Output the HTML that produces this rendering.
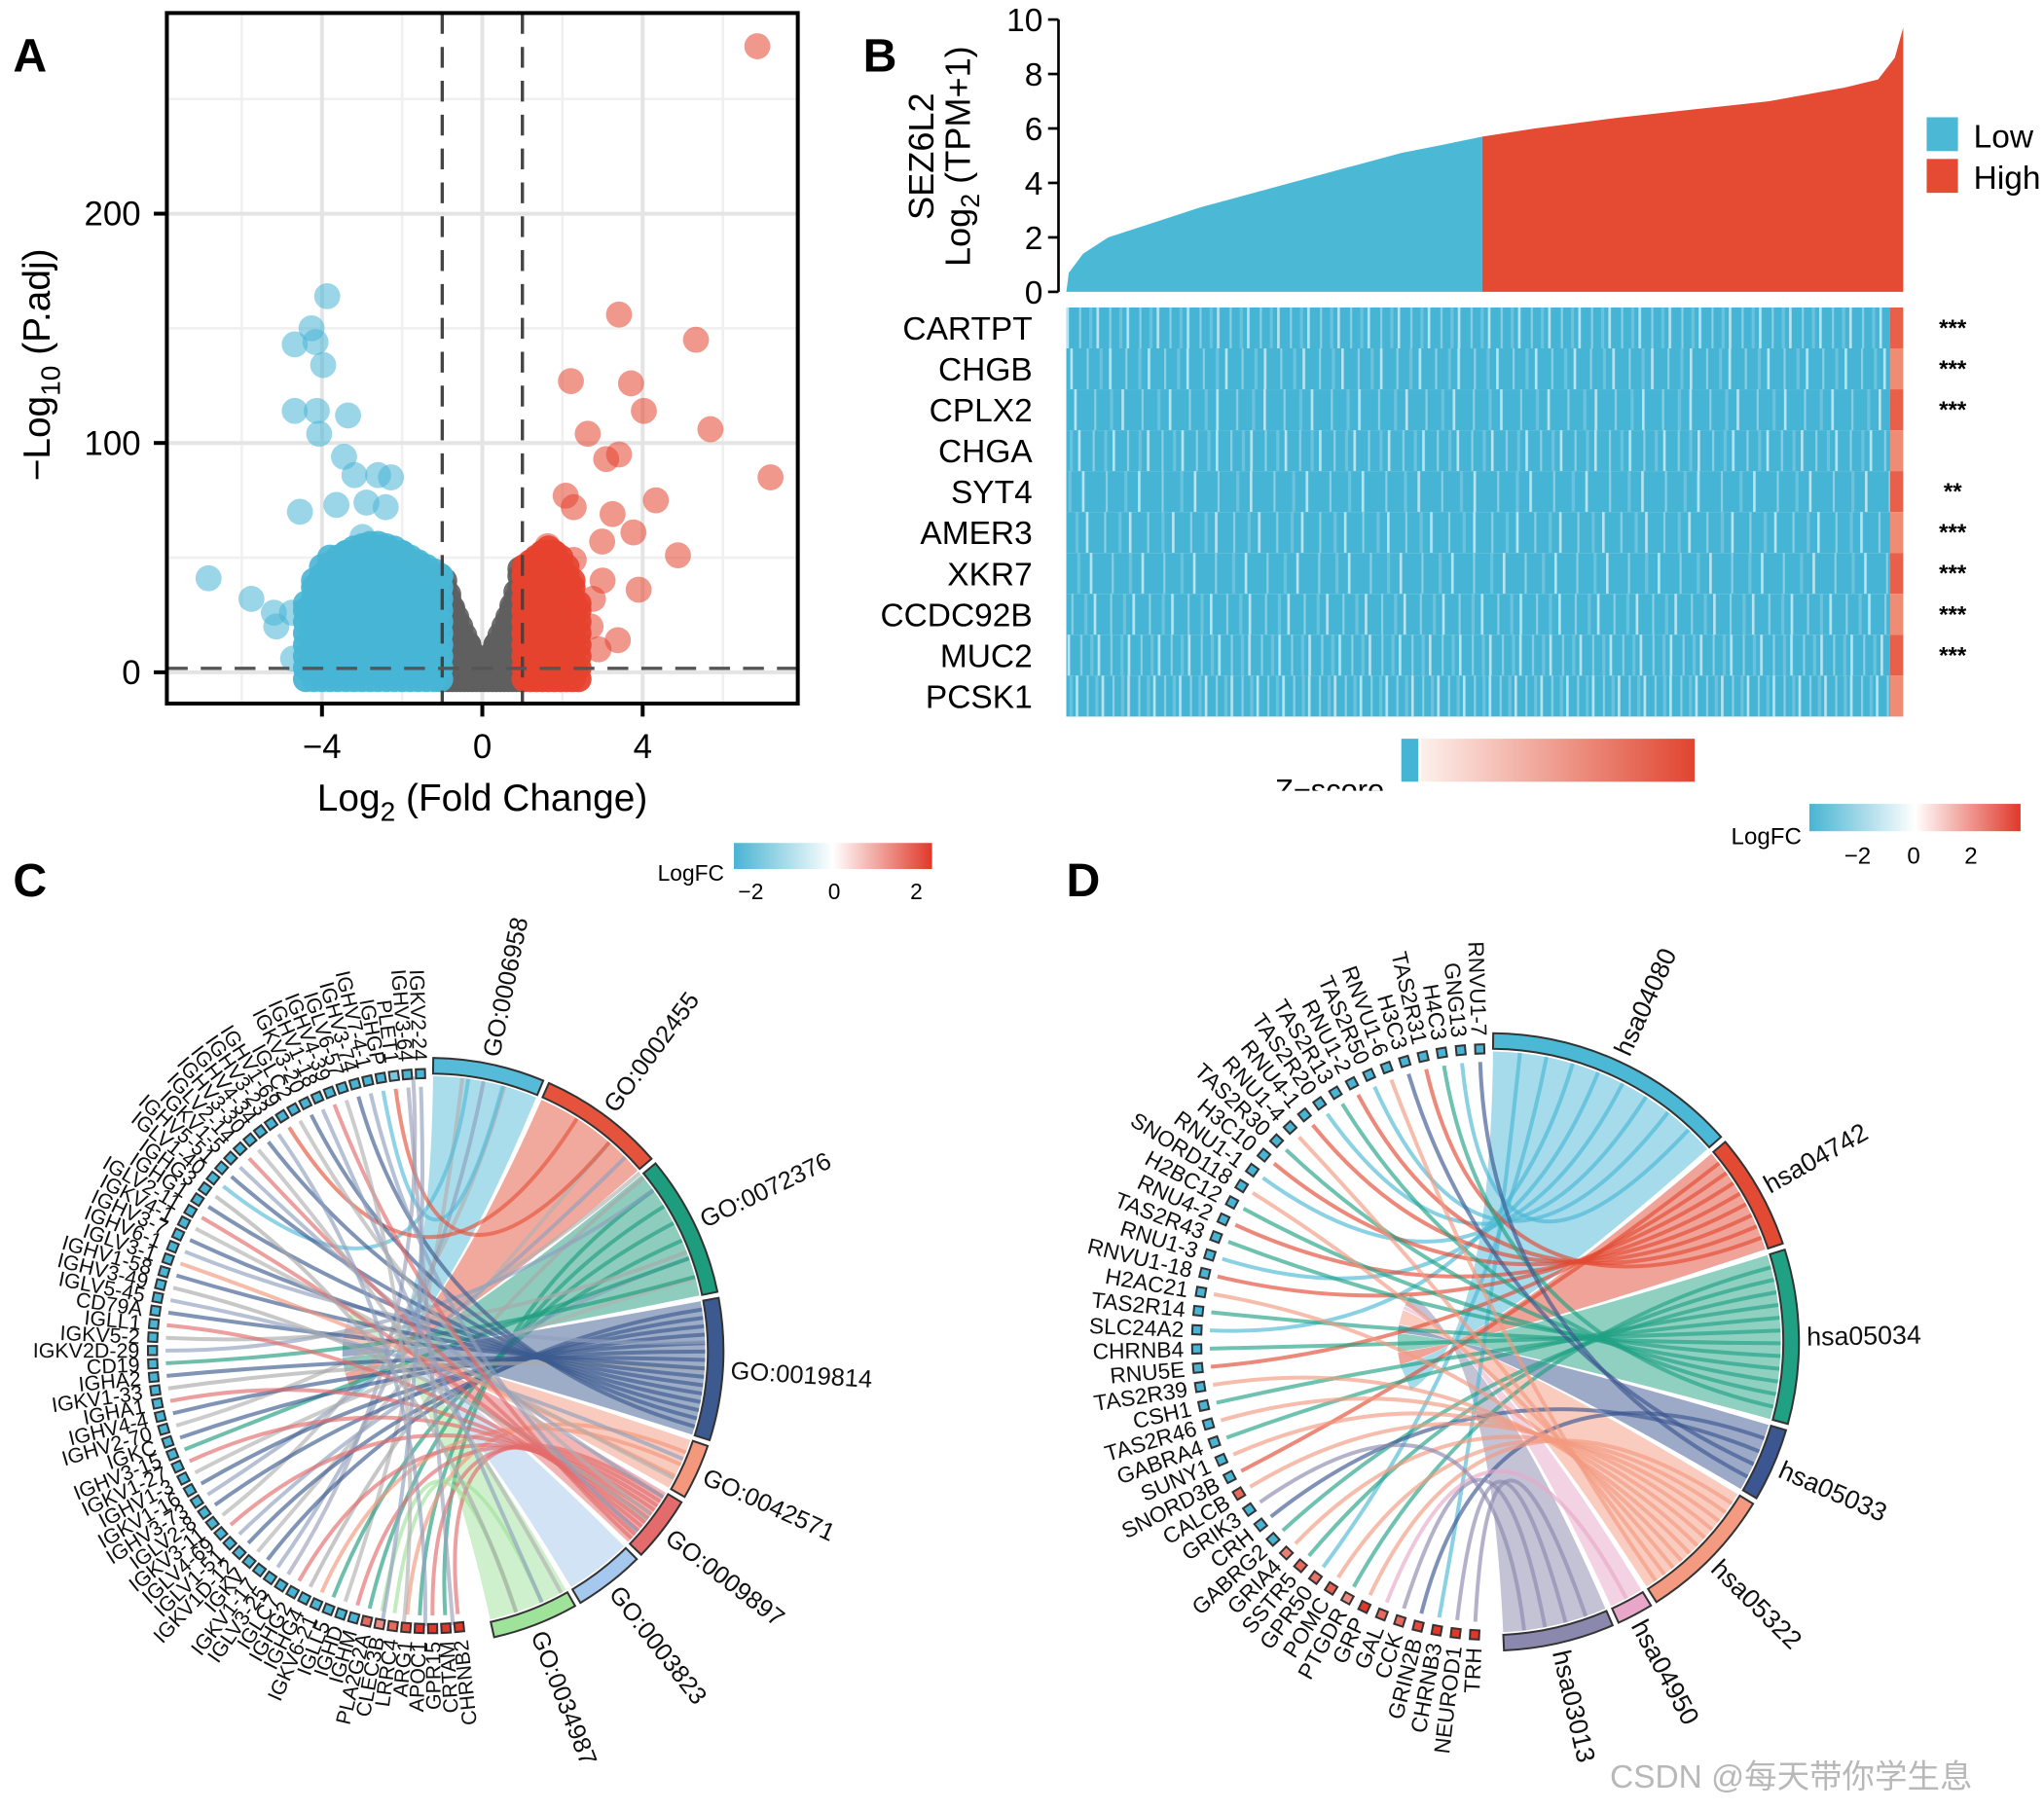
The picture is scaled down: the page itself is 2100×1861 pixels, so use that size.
<!DOCTYPE html>
<html><head><meta charset="utf-8"><style>
html,body{margin:0;padding:0;background:#fff}
svg{display:block;font-family:"Liberation Sans","Noto Sans CJK SC",sans-serif}
</style></head><body>
<svg id="fig" width="2100" height="1861" viewBox="0 0 1568 1390" preserveAspectRatio="none">
<defs>
<linearGradient id="gLog" x1="0" x2="1"><stop offset="0" stop-color="#49b4d3"/><stop offset="0.5" stop-color="#ffffff"/><stop offset="1" stop-color="#e0382a"/></linearGradient>
<linearGradient id="gZ" x1="0" x2="1"><stop offset="0" stop-color="#fdf0ec"/><stop offset="1" stop-color="#e0452f"/></linearGradient>
<clipPath id="zclip"><rect x="900" y="580" width="200" height="27"/></clipPath>
</defs>
<g id="pA"></g>
<g id="pB"></g>
<g id="pC"></g>
<g id="pD"></g>
<text x="1235" y="1372" font-size="25" fill="#b8b8b8">CSDN @每天带你学生息</text>
</svg>
<script>
// ---------- Panel A data (log2FC, -log10 padj) ----------
const blueX=[-3.87,-4.26,-4.68,-4.16,-3.97,-4.68,-4.13,-3.35,-4.07,-3.45,-3.19,-2.6,-2.28,-4.55,-3.64,-2.89,-2.41,-2.99,-6.83,-5.76,-5.2,-5.14,-4.75,-4.72];
const blueY=[164,150,143,144,134,114,114,112,104,94,86,86,85,70,73,74,72,59,41,32,26,20,26,6];
// dense cluster: column positions and the top of each column
const blueBlobX=[-4.4,-4.2,-4.0,-3.8,-3.6,-3.4,-3.2,-3.0,-2.8,-2.6,-2.4,-2.2,-2.0,-1.8,-1.6,-1.4,-1.2,-1.05];
const blueBlobTop=[30,40,46,50,50,52,54,55,56,56,55,54,52,50,48,46,44,42];
const grayBlobX=[-0.95,-0.85,-0.75,-0.65,-0.55,-0.45,-0.35,-0.25,-0.15,-0.05,0.05,0.15,0.25,0.35,0.45,0.55,0.65,0.75,0.85,0.95];
const grayBlobTop=[40,34,28,24,20,16,12,8,5,3,3,5,8,12,16,20,24,29,35,45];
const redBlobX=[1.05,1.2,1.35,1.5,1.65,1.8,1.95,2.1,2.25,2.4];
const redBlobTop=[46,48,50,52,54,52,50,46,40,30];
const redX=[6.86,3.41,5.33,2.21,3.71,4.03,5.69,7.19,2.63,3.41,3.09,4.33,2.08,2.28,3.25,3.77,2.99,4.88,3.9,3.38,2.76,2.28,1.63,2.7,2.9,3.0];
const redY=[273,156,145,127,126,114,106,85,104,95,93,75,77,72,69,61,57,51,36,14,32,49,55,20,10,40];
const xTicksA=[-4,0,4], yTicksA=[0,100,200];

// ---------- Panel B data ----------
const bQuant=[0,0.003,0.02,0.05,0.1,0.16,0.22,0.28,0.34,0.40,0.45,0.497,0.56,0.66,0.75,0.84,0.93,0.97,0.99,1.0];
const bValue=[0,0.7,1.4,2.0,2.5,3.1,3.6,4.1,4.6,5.1,5.4,5.7,6.0,6.4,6.7,7.0,7.5,7.8,8.6,9.7];
const bTicks=[0,2,4,6,8,10];
const bGenes=["CARTPT","CHGB","CPLX2","CHGA","SYT4","AMER3","XKR7","CCDC92B","MUC2","PCSK1"];
const bSig=["***","***","***","","**","***","***","***","***",""];

// ---------- Panel C data ----------
const cTerms=["GO:0006958","GO:0002455","GO:0072376","GO:0019814","GO:0042571","GO:0009897","GO:0003823","GO:0034987"];
const cTermCounts=[23,26,29,29,12,14,15,18];
const cGenes=["CHRNB2","CRTAM","GPR15","APOC1","ARG1","LRRC4","CLEC3B","PLA2G2A","IGHM","IGHD","IGLL5","IGKV6-21","IGHG4","IGHG2","IGLC7","IGLV3-25","IGKV1-17","IGKV","IGKV1D-12","IGLV1-51","IGLV4-69","IGKV3-11","IGLV2-8","IGHV3-73","IGKV1-16","IGHV1-3","IGKV1-27","IGHV3-15","IGKC","IGHV2-70","IGHV4-4","IGHA1","IGKV1-33","IGHA2","CD19","IGKV2D-29","IGKV5-2","IGLL1","CD79A","IGLV5-45","IGHV3-49","IGHV1-58","IGLV3-1","IGHV6-1","IGHV3-7","IGKV4-1","IGLV2-11","IGHG1","IGHG3","IGLV1-40","IGHV5-51","IGKV1-5","IGLV2-14","IGHV3-30","IGHV4-34","IGHV3-23","IGHV1-69","IGLC2","IGKV3-20","IGHV1-18","IGHV4-39","IGLV6-57","IGHV3-74","IGHV7-4-1","IGHGP","PLET1","IGHV3-64","IGKV2-24"];
const cGeneFC=[2,2,2,2,1.8,1.5,1.2,1.5,-2,-2,-2,-2,-2,-2,-2,-2,-2,-2,-2,-2,-2,-2,-2,-2,-2,-2,-2,-2,-2,-2,-2,-2,-2,-2,-2,-2,-2,-2,-2,-2,-2,-2,-2,-2,-2,-2,-2,-2,-2,-2,-2,-2,-2,-2,-2,-2,-2,-2,-2,-2,-2,-2,-2,-2,-2,-1.5,-2,-2];
const cGeneTerm=[5,2,5,2,4,7,7,2,5,8,2,4,8,5,8,8,3,8,3,8,5,8,3,8,3,8,5,2,3,8,3,5,8,3,2,8,8,5,3,8,8,3,4,8,3,8,5,3,8,0,3,8,5,8,3,8,1,8,3,8,5,8,3,8,0,1,8,8];

// ---------- Panel D data ----------
const dTerms=["hsa04080","hsa04742","hsa05034","hsa05033","hsa05322","hsa04950","hsa03013"];
const dTermCounts=[49,23,34,15,27,8,22];
const dGenes=["TRH","NEUROD1","CHRNB3","GRIN2B","CCK","GAL","GRP","PTGDR","POMC","GPR50","SSTR5","GRIA4","GABRG2","CRH","GRIK3","CALCB","SNORD3B","SUNY1","GABRA4","TAS2R46","CSH1","TAS2R39","RNU5E","CHRNB4","SLC24A2","TAS2R14","H2AC21","RNVU1-18","RNU1-3","TAS2R43","RNU4-2","H2BC12","SNORD118","RNU1-1","H3C10","TAS2R30","RNU1-4","RNU4-1","TAS2R20","TAS2R13","RNU1-2","TAS2R50","RNVU1-6","H3C3","TAS2R31","H4C3","GNG13","RNVU1-7"];
const dGeneFC=[2,2,2,1.8,1.5,1.5,2,1.2,1.6,1.4,1.5,1.3,-2,-2,-2,1.5,-2,-2,-2,-2,-2,-2,-2,-2,-2,-2,-2,-2,-2,-2,-2,-2,-2,-2,-2,-2,-2,-2,-2,-2,-2,-2,-2,-2,-2,-2,-2,-2];
const dGeneTerm=[6,6,0,3,6,5,4,2,4,0,2,4,2,3,6,4,1,4,2,4,2,4,1,2,0,2,4,1,0,2,1,2,4,0,1,2,4,1,0,2,1,0,4,3,1,2,0,3];

const NS="http://www.w3.org/2000/svg";
function el(tag,attrs,parent,txt){const e=document.createElementNS(NS,tag);for(const k in attrs)e.setAttribute(k,attrs[k]);if(txt!==undefined)e.textContent=txt;parent.appendChild(e);return e;}

// ================= Panel A =================
(function(){
const g=document.getElementById('pA');
const L=128,R=612,T=10,B=540;
const sx=v=>370+v*30.75, sy=v=>516-v*1.76;
[-6,-2,2,6].forEach(v=>el('line',{x1:sx(v),x2:sx(v),y1:T,y2:B,stroke:'#f0f0f0','stroke-width':2},g));
[50,150,250].forEach(v=>el('line',{x1:L,x2:R,y1:sy(v),y2:sy(v),stroke:'#f0f0f0','stroke-width':2},g));
xTicksA.forEach(v=>el('line',{x1:sx(v),x2:sx(v),y1:T,y2:B,stroke:'#e4e4e4','stroke-width':3},g));
yTicksA.forEach(v=>el('line',{x1:L,x2:R,y1:sy(v),y2:sy(v),stroke:'#e4e4e4','stroke-width':3},g));
function pt(x,y,col,op,nm){const c=el('circle',{cx:sx(x),cy:sy(y),r:10,fill:col,'fill-opacity':op},g);

}
function blob(xs,tops,col,nm){for(let i=0;i<xs.length;i++){for(let y=-3;y<=tops[i];y+=5){pt(xs[i],Math.min(y,tops[i]),col,0.95,nm);}pt(xs[i],tops[i],col,0.9,nm);}}
blob(grayBlobX,grayBlobTop,'#5f5f5f','gray-point');
blob(blueBlobX,blueBlobTop,'#48b5d5','down-point');
blob(redBlobX,redBlobTop,'#e6432f','up-point');
for(let i=0;i<blueX.length;i++)pt(blueX[i],blueY[i],'#48b5d5',0.55,'down-point');
for(let i=0;i<redX.length;i++)pt(redX[i],redY[i],'#e6432f',0.55,'up-point');
el('line',{x1:sx(-1),x2:sx(-1),y1:T,y2:B,stroke:'#444','stroke-width':2.5,'stroke-dasharray':'16 10'},g);
el('line',{x1:sx(1),x2:sx(1),y1:T,y2:B,stroke:'#444','stroke-width':2.5,'stroke-dasharray':'16 10'},g);
el('line',{x1:L,x2:R,y1:sy(0)-3,y2:sy(0)-3,stroke:'#555','stroke-width':2.5,'stroke-dasharray':'16 10'},g);
el('rect',{x:L,y:T,width:R-L,height:B-T,fill:'none',stroke:'#000','stroke-width':3,},g);
xTicksA.forEach(v=>{el('line',{x1:sx(v),x2:sx(v),y1:B,y2:B+10,stroke:'#000','stroke-width':3},g);
 const t=el('text',{x:sx(v),y:582,'font-size':26,'text-anchor':'middle'},g,v<0?'\u2212'+(-v):String(v));
 });
yTicksA.forEach(v=>{el('line',{x1:L-10,x2:L,y1:sy(v),y2:sy(v),stroke:'#000','stroke-width':3},g);
 const t=el('text',{x:108,y:sy(v)+9,'font-size':26,'text-anchor':'end'},g,String(v));
 });
const xt=el('text',{x:370,y:622,'font-size':29,'text-anchor':'middle',},g);
xt.innerHTML='Log<tspan font-size="21" dy="8">2</tspan><tspan dy="-8"> (Fold Change)</tspan>';
const yt=el('text',{transform:'translate(38,280) rotate(-90)','font-size':29,'text-anchor':'middle',},g);
yt.innerHTML='\u2212Log<tspan font-size="21" dy="8">10</tspan><tspan dy="-8"> (P.adj)</tspan>';
el('text',{x:10,y:55,'font-size':36,'font-weight':'bold',},g,'A');
})();

// ================= Panel B =================
(function(){
const g=document.getElementById('pB');
const x0=818,x1=1460;
const xs=q=>x0+q*(x1-x0), ys=v=>224-v*20.9;
const split=0.497;
let pb='M'+xs(0)+','+ys(0),pr='M'+xs(split)+','+ys(0);
for(let i=0;i<bQuant.length;i++){ if(bQuant[i]<=split) pb+=' L'+xs(bQuant[i])+','+ys(bValue[i]); if(bQuant[i]>=split) pr+=' L'+xs(bQuant[i])+','+ys(bValue[i]);}
pb+=' L'+xs(split)+','+ys(0)+'Z'; pr+=' L'+xs(1)+','+ys(0)+'Z';
el('path',{d:pb,fill:'#4bb8d5',},g);
el('path',{d:pr,fill:'#e54a33',},g);
el('line',{x1:812,x2:812,y1:ys(10),y2:ys(0),stroke:'#000','stroke-width':2},g);
bTicks.forEach(v=>{el('line',{x1:804,x2:812,y1:ys(v),y2:ys(v),stroke:'#000','stroke-width':2},g);
 const t=el('text',{x:800,y:ys(v)+9,'font-size':25,'text-anchor':'end'},g,String(v));
 });
el('text',{transform:'translate(716,120) rotate(-90)','font-size':27,'text-anchor':'middle',},g,'SEZ6L2');
const yt=el('text',{transform:'translate(744,120) rotate(-90)','font-size':27,'text-anchor':'middle',},g);
yt.innerHTML='Log<tspan font-size="20" dy="7">2</tspan><tspan dy="-7"> (TPM+1)</tspan>';
el('rect',{x:1478,y:90,width:24,height:26,fill:'#4bb8d5',},g);
el('rect',{x:1478,y:122,width:24,height:26,fill:'#e54a33',},g);
el('text',{x:1514,y:113,'font-size':25,},g,'Low');
el('text',{x:1514,y:145,'font-size':25,},g,'High');
el('text',{x:662,y:55,'font-size':36,'font-weight':'bold',},g,'B');
const hy0=236,rh=31.4;
const periods=[7,9,11,8,13,10,12,9,7,6];
bGenes.forEach((name,i)=>{
 const y=hy0+i*rh;
 el('rect',{x:x0,y:y,width:x1-x0-10,height:rh,fill:'#46b4d4',},g);
 const p=periods[i];
 el('rect',{x:x0,y:y,width:x1-x0-10,height:rh,fill:'url(#st'+i+')'},g);
 const pat=el('pattern',{id:'st'+i,patternUnits:'userSpaceOnUse',x:x0+i*3,y:0,width:p*3.3,height:10},document.querySelector('defs'));
 el('rect',{x:0,y:0,width:2,height:10,fill:'#c4e8f2','fill-opacity':0.9},pat);
 el('rect',{x:p*1.4,y:0,width:1.6,height:10,fill:'#93d2e5','fill-opacity':0.9},pat);
 el('rect',{x:p*2.5,y:0,width:2.4,height:10,fill:'#74c6de','fill-opacity':0.8},pat);
 el('rect',{x:x1-10,y:y,width:10,height:rh,fill:i%2?'#ef8c74':'#e9604a',},g);
 const t=el('text',{x:792,y:y+rh/2+9,'font-size':25,'text-anchor':'end'},g,name);
 
 if(bSig[i]){const s=el('text',{x:1498,y:y+rh/2+6,'font-size':18,'text-anchor':'middle','font-weight':'bold'},g,bSig[i]);
 }
});
el('rect',{x:1075,y:567,width:13,height:33,fill:'#46b4d4',},g);
el('rect',{x:1090,y:567,width:210,height:33,fill:'url(#gZ)',},g);
el('text',{x:1020,y:614,'font-size':23,'text-anchor':'middle','clip-path':'url(#zclip)',},g,'Z\u2212score');
el('text',{x:1355,y:648,'font-size':18,'text-anchor':'middle',},g,'LogFC');
el('rect',{x:1388,y:617,width:162,height:21,fill:'url(#gLog)',},g);
[['\u22122',1425],['0',1468],['2',1512]].forEach(a=>el('text',{x:a[1],y:663,'font-size':18,'text-anchor':'middle',},g,a[0]));
})();

// ================= Chord diagrams =================
const fcColor=v=>{const t=Math.max(-1,Math.min(1,v/2));if(t<0){const k=-t;return `rgb(${Math.round(255-(255-73)*k)},${Math.round(255-(255-180)*k)},${Math.round(255-(255-211)*k)})`;}return `rgb(${Math.round(255-(255-224)*t)},${Math.round(255-(255-56)*t)},${Math.round(255-(255-42)*t)})`;};
function chord(gid,cx,cy,R,terms,counts,colors,genes,fc,gt,tStart,tEnd,gStart,gEnd,fs,tfs,extraGray){
 const g=document.getElementById(gid);
 const rad=a=>a*Math.PI/180;
 const P=(a,r)=>[cx+r*Math.cos(rad(a)),cy+r*Math.sin(rad(a))];
 const Rin=R-14;
 const tot=counts.reduce((a,b)=>a+b,0);
 const arcs=[];let a=tStart;
 counts.forEach((c,i)=>{const span=(tEnd-tStart)*c/tot;arcs.push([a+0.6,a+span-0.6]);a+=span;});
 const gStep=(gEnd-gStart)/(genes.length-1);
 const gAng=i=>gStart+i*gStep;
 arcs.forEach((ar,i)=>{
  const mid=(ar[0]+ar[1])/2; const tgt=180+mid*0.35; const w=(ar[1]-ar[0])*0.35;
  const p0=P(ar[0],Rin),p1=P(ar[1],Rin),q0=P(tgt-w/2,R*0.3),q1=P(tgt+w/2,R*0.3);
  const d=`M${p0} A${Rin},${Rin} 0 0 1 ${p1} Q${cx},${cy} ${q1} L${q0} Q${cx},${cy} ${p0}Z`;
  const f=el('path',{d:d,fill:colors[i],'fill-opacity':0.5},g);
  
  
 });
 const per=terms.map(()=>0), tot2=terms.map((_,i)=>gt.filter(x=>x===i).length);
 genes.forEach((nm,i)=>{
  const ga=gAng(i); const ti=gt[i];
  const pg=P(ga,Rin-8);
  let col,pe;
  if(ti<terms.length){const ar=arcs[ti];per[ti]++;const ta=ar[0]+(ar[1]-ar[0])*per[ti]/(tot2[ti]+1);pe=P(ta,Rin);col=colors[ti];}
  else{pe=P(ga+180+(i%7-3)*12,Rin);col=extraGray[i%extraGray.length];}
  const c=el('path',{d:`M${pg} Q${cx},${cy} ${pe}`,fill:'none',stroke:col,'stroke-width':3,'stroke-opacity':0.65},g);
  
  
 });
 genes.forEach((nm,i)=>{
  const ga=gAng(i);const p=P(ga,Rin+2);
  const b=el('rect',{x:-3.5,y:-3.5,width:7,height:7,fill:fcColor(fc[i]),stroke:'#333','stroke-width':1.5,transform:`translate(${p}) rotate(${ga})`},g);
  
  
  const lp=P(ga,Rin+12);
  const t=el('text',{transform:`translate(${lp}) rotate(${ga-180})`,'text-anchor':'end','font-size':fs,dy:fs*0.35,fill:'#111'},g,nm);
  
  
 });
 arcs.forEach((ar,i)=>{
  const r0=R-12,r1=R;
  const a0=P(ar[0],r0),a1=P(ar[1],r0),b0=P(ar[0],r1),b1=P(ar[1],r1);
  const lg=(ar[1]-ar[0])>180?1:0;
  const s=el('path',{d:`M${a0} A${r0},${r0} 0 ${lg} 1 ${a1} L${b1} A${r1},${r1} 0 ${lg} 0 ${b0}Z`,fill:colors[i],stroke:'#333','stroke-width':1.5},g);
  
  
  const mid=(ar[0]+ar[1])/2;const lp=P(mid,R+6);
  const t=el('text',{transform:`translate(${lp}) rotate(${mid})`,'font-size':tfs,dy:tfs*0.35,fill:'#111'},g,terms[i]);
  
  
 });
}
chord('pC',330,1037,225,cTerms,cTermCounts,['#55bbd8','#e5533c','#1e9c7e','#3c5a8f','#f3977d','#e36b6b','#a5c8ee','#9fe29a'],
 cGenes,cGeneFC,cGeneTerm,-90,78,84,268,16,19,['#a9a9a9','#b0b0b0','#9aa0b8','#8f9fbf']);
chord('pD',1143,1030,237,dTerms,dTermCounts,['#4bb8d5','#e24a33','#20a184','#3b5690','#f39a80','#e8a7c8','#8a88ad'],
 dGenes,dGeneFC,dGeneTerm,-90,88,93,268,17,20,['#a9a9a9']);
(function(){
const g=document.getElementById('pC');
el('text',{x:10,y:688,'font-size':36,'font-weight':'bold',},g,'C');
el('text',{x:530,y:676,'font-size':17,'text-anchor':'middle',},g,'LogFC');
el('rect',{x:563,y:647,width:152,height:20,fill:'url(#gLog)',},g);
[['\u22122',576],['0',640],['2',703]].forEach(a=>el('text',{x:a[1],y:690,'font-size':17,'text-anchor':'middle',},g,a[0]));
const gd=document.getElementById('pD');
el('text',{x:818,y:688,'font-size':36,'font-weight':'bold',},gd,'D');
})();
</script>
</body></html>
